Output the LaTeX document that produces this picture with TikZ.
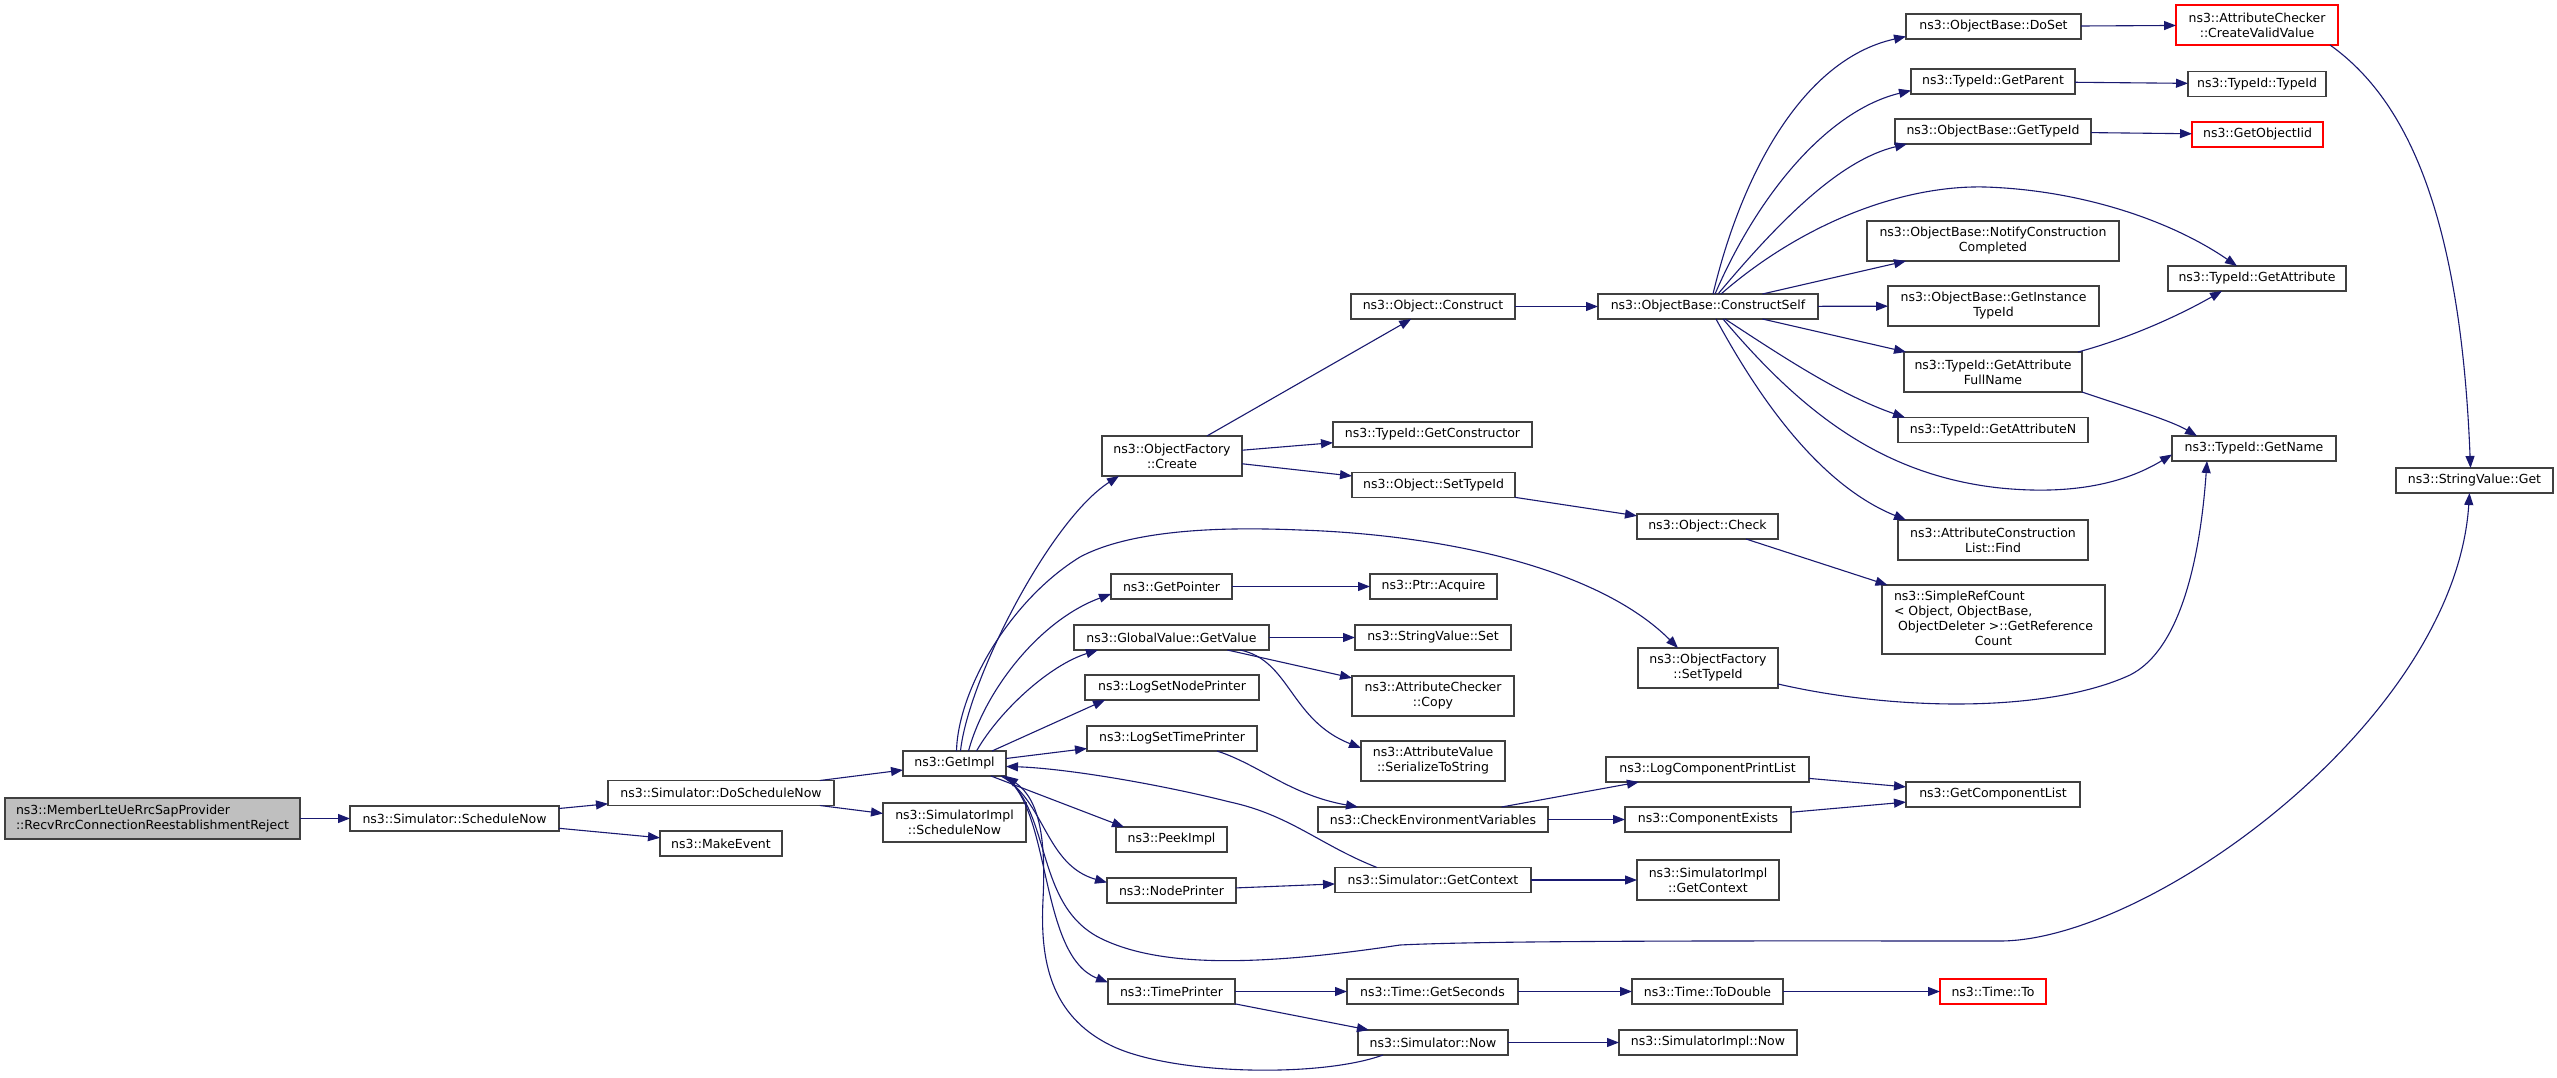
\documentclass[tikz,border=0pt]{standalone}
\usepackage{fontspec}
\setmainfont{DejaVu Sans}
\usetikzlibrary{arrows.meta,calc}
\definecolor{edgec}{HTML}{191970}
\definecolor{boxc}{HTML}{404040}
\definecolor{mainfill}{HTML}{BFBFBF}
\begin{document}
\begin{tikzpicture}[x=1pt,y=-1pt,
  box/.style={draw=boxc, line width=1.1pt, fill=white, inner sep=0pt, outer sep=0pt,
    font=\fontsize{12.5}{15}\selectfont, align=center, minimum height=25pt},
  redbox/.style={box, draw=red},
  edge/.style={draw=edgec, line width=1.1pt, -{Triangle[length=12pt,width=9pt]}}]
\fill[white] (0,0) rectangle (2557,1078);
\useasboundingbox (0,0) rectangle (2557,1078);
% nodes
\node[box, fill=mainfill, minimum width=295pt, minimum height=41pt, align=left] (main) at (152.5,818.5) {ns3::MemberLteUeRrcSapProvider\\::RecvRrcConnectionReestablishmentReject};
\node[box, minimum width=209pt] (sn) at (454.5,818.5) {ns3::Simulator::ScheduleNow};
\node[box, minimum width=226pt] (dsn) at (721,793) {ns3::Simulator::DoScheduleNow};
\node[box, minimum width=122pt] (me) at (721,843.5) {ns3::MakeEvent};
\node[box, minimum width=103pt] (gi) at (954.5,763.5) {ns3::GetImpl};
\node[box, minimum width=143pt, minimum height=39pt] (sisn) at (954.5,822.5) {ns3::SimulatorImpl\\::ScheduleNow};
\node[box, minimum width=140pt, minimum height=40pt] (cr) at (1172,456) {ns3::ObjectFactory\\::Create};
\node[box, minimum width=121pt] (gp) at (1171.5,586.5) {ns3::GetPointer};
\node[box, minimum width=195pt] (gv) at (1171.5,637.5) {ns3::GlobalValue::GetValue};
\node[box, minimum width=174pt] (lsnp) at (1172,687.5) {ns3::LogSetNodePrinter};
\node[box, minimum width=170pt] (lstp) at (1172,738.5) {ns3::LogSetTimePrinter};
\node[box, minimum width=111pt] (pk) at (1171.5,839.5) {ns3::PeekImpl};
\node[box, minimum width=129pt] (np) at (1171.5,890.5) {ns3::NodePrinter};
\node[box, minimum width=127pt] (tp) at (1171.5,991.5) {ns3::TimePrinter};
\node[box, minimum width=164pt] (oc) at (1433,306.5) {ns3::Object::Construct};
\node[box, minimum width=199pt] (gcon) at (1432.5,434.5) {ns3::TypeId::GetConstructor};
\node[box, minimum width=163pt] (ost) at (1433.5,485) {ns3::Object::SetTypeId};
\node[box, minimum width=127pt] (pa) at (1433.5,586.5) {ns3::Ptr::Acquire};
\node[box, minimum width=156pt] (svs) at (1433,637.5) {ns3::StringValue::Set};
\node[box, minimum width=162pt, minimum height=40pt] (acc) at (1433,696) {ns3::AttributeChecker\\::Copy};
\node[box, minimum width=144pt, minimum height=40pt] (avs) at (1433,761) {ns3::AttributeValue\\::SerializeToString};
\node[box, minimum width=230pt] (cev) at (1433,819.5) {ns3::CheckEnvironmentVariables};
\node[box, minimum width=196pt] (gc) at (1433,880) {ns3::Simulator::GetContext};
\node[box, minimum width=171pt] (gs) at (1432.5,991.5) {ns3::Time::GetSeconds};
\node[box, minimum width=150pt] (snow) at (1433,1042.5) {ns3::Simulator::Now};
\node[box, minimum width=220pt] (cs) at (1708,306.5) {ns3::ObjectBase::ConstructSelf};
\node[box, minimum width=141pt] (ochk) at (1707.5,526.5) {ns3::Object::Check};
\node[box, minimum width=140pt, minimum height=40pt] (ofst) at (1708,668) {ns3::ObjectFactory\\::SetTypeId};
\node[box, minimum width=203pt] (lcpl) at (1707.5,769.5) {ns3::LogComponentPrintList};
\node[box, minimum width=166pt] (cex) at (1708,819.5) {ns3::ComponentExists};
\node[box, minimum width=142pt, minimum height=40pt] (sigc) at (1708,880) {ns3::SimulatorImpl\\::GetContext};
\node[box, minimum width=151pt] (td) at (1707.5,991.5) {ns3::Time::ToDouble};
\node[box, minimum width=178pt] (sinow) at (1708,1042.5) {ns3::SimulatorImpl::Now};
\node[box, minimum width=175pt] (doset) at (1993.5,26.5) {ns3::ObjectBase::DoSet};
\node[box, minimum width=164pt] (gpar) at (1993,81.5) {ns3::TypeId::GetParent};
\node[box, minimum width=196pt] (obgt) at (1993,131.5) {ns3::ObjectBase::GetTypeId};
\node[box, minimum width=252pt, minimum height=40pt] (ncc) at (1993,241) {ns3::ObjectBase::NotifyConstruction\\Completed};
\node[box, minimum width=211pt, minimum height=40pt] (gitid) at (1993.5,306) {ns3::ObjectBase::GetInstance\\TypeId};
\node[box, minimum width=178pt, minimum height=40pt] (gafn) at (1993,372) {ns3::TypeId::GetAttribute\\FullName};
\node[box, minimum width=190pt] (gan) at (1993,430) {ns3::TypeId::GetAttributeN};
\node[box, minimum width=190pt, minimum height=40pt] (acl) at (1993,540) {ns3::AttributeConstruction\\List::Find};
\node[box, minimum width=223pt, minimum height=69pt] (src) at (1993.5,619.5) {\begin{tabular}{@{}l@{}}ns3::SimpleRefCount\\< Object, ObjectBase,\\\ ObjectDeleter >::GetReference\\\multicolumn{1}{@{}c@{}}{Count}\end{tabular}};
\node[box, minimum width=174pt] (gcl) at (1993,794.5) {ns3::GetComponentList};
\node[redbox, minimum width=106pt] (tto) at (1993,991.5) {ns3::Time::To};
\node[redbox, minimum width=162pt, minimum height=40pt] (cvv) at (2257,25) {ns3::AttributeChecker\\::CreateValidValue};
\node[box, minimum width=138pt] (tid) at (2257,84) {ns3::TypeId::TypeId};
\node[redbox, minimum width=131pt] (goi) at (2257.5,134.5) {ns3::GetObjectIid};
\node[box, minimum width=178pt] (ga) at (2257,278.5) {ns3::TypeId::GetAttribute};
\node[box, minimum width=164pt] (gname) at (2254,448.5) {ns3::TypeId::GetName};
\node[box, minimum width=157pt] (svg) at (2474.5,480.5) {ns3::StringValue::Get};
% straight edges
\draw[edge] (main) -- (sn);
\draw[edge] (sn) -- (dsn);
\draw[edge] (sn) -- (me);
\draw[edge] (dsn) -- (gi);
\draw[edge] (dsn) -- (sisn);
\draw[edge] (cr) -- (oc);
\draw[edge] (cr) -- (gcon);
\draw[edge] (cr) -- (ost);
\draw[edge] (oc) -- (cs);
\draw[edge] (ost) -- (ochk);
\draw[edge] (ochk) -- (src);
\draw[edge] (gp) -- (pa);
\draw[edge] (gv) -- (svs);
\draw[edge] (gv) -- (acc);
\draw[edge] (np) -- (gc);
\draw[edge] (tp) -- (gs);
\draw[edge] (tp) -- (snow);
\draw[edge] (cev) -- (lcpl);
\draw[edge] (cev) -- (cex);
\draw[edge] (lcpl) -- (gcl);
\draw[edge] (cex) -- (gcl);
\draw[edge] (gc) -- (sigc);
\draw[edge] (gs) -- (td);
\draw[edge] (td) -- (tto);
\draw[edge] (snow) -- (sinow);
\draw[edge] (cs) -- (ncc);
\draw[edge] (cs) -- (gitid);
\draw[edge] (cs) -- (gafn);
\draw[edge] (doset) -- (cvv);
\draw[edge] (gpar) -- (tid);
\draw[edge] (obgt) -- (goi);
\draw[edge] ($(gi.north east)+(-14,0)$) -- ($(lsnp.south west)+(20,0)$);
\draw[edge] ($(gi.east)+(0,-5)$) -- ($(lstp.west)+(0,10)$);
\draw[edge] ($(gi.south east)+(-15,0)$) -- ($(pk.north west)+(8,0)$);
% curved edges from GetImpl
\draw[edge] ($(gi.north)+(6,0)$) .. controls (968,680) and (1050,520) .. ($(cr.south west)+(17,0)$);
\draw[edge] ($(gi.north)+(2,0)$) .. controls (958,690) and (1010,600) .. (1080,557)
  .. controls (1140,525) and (1250,528) .. (1300,530)
  .. controls (1450,535) and (1600,570) .. ($(ofst.north)+(-30,0)$);
\draw[edge] ($(gi.north)+(14,0)$) .. controls (985,690) and (1040,620) .. ($(gp.south west)+(0,-5)$);
\draw[edge] ($(gi.north)+(22,0)$) .. controls (1000,710) and (1050,665) .. ($(gv.south west)+(24,0)$);
\draw[edge] ($(gi.south east)+(-5,0)$) .. controls (1045,800) and (1045,865) .. ($(np.west)+(0,-8)$);
\draw[edge] ($(gi.south east)+(-3,0)$) .. controls (1052,805) and (1038,955) .. ($(tp.west)+(0,-9)$);
\draw[edge] ($(gi.south east)+(-1,0)$) .. controls (1052,815) and (1035,905) .. (1100,938)
  .. controls (1160,968) and (1260,966) .. (1400,945)
  .. controls (1500,940) and (1800,941) .. (2000,941)
  .. controls (2150,941) and (2455,720) .. ($(svg.south)+(-5,0)$);
% edges into GetImpl
\draw[edge] ($(gc.north west)+(42,0)$) .. controls (1320,845) and (1290,815) .. (1230,802)
  .. controls (1150,782) and (1060,768) .. ($(gi.east)+(0,3)$);
\draw[edge] ($(snow.south west)+(25,0)$) .. controls (1320,1078) and (1170,1075) .. (1110,1045)
  .. controls (1050,1015) and (1040,960) .. (1043,900)
  .. controls (1046,840) and (1040,800) .. ($(gi.south east)+(0,0)$);
% other curves
\draw[edge] ($(gv.south east)+(-29,0)$) .. controls (1290,660) and (1290,720) .. ($(avs.west)+(0,-13)$);
\draw[edge] ($(lstp.south east)+(-40,0)$) .. controls (1260,765) and (1290,795) .. ($(cev.north west)+(40,0)$);
\draw[edge] ($(cs.north)+(5,0)$) .. controls (1740,180) and (1800,60) .. ($(doset.west)+(0,10)$);
\draw[edge] ($(cs.north)+(7,0)$) .. controls (1760,190) and (1830,110) .. ($(gpar.west)+(0,9)$);
\draw[edge] ($(cs.north)+(10,0)$) .. controls (1780,220) and (1840,160) .. ($(obgt.south west)+(12,0)$);
\draw[edge] ($(cs.north)+(13,0)$) .. controls (1800,225) and (1900,185) .. (1985,187)
  .. controls (2080,190) and (2170,220) .. ($(ga.north)+(-20,0)$);
\draw[edge] ($(cs.south)+(17,0)$) .. controls (1780,355) and (1840,395) .. ($(gan.north west)+(7,0)$);
\draw[edge] ($(cs.south)+(15,0)$) .. controls (1800,410) and (1880,475) .. (2000,488)
  .. controls (2080,496) and (2130,480) .. ($(gname.west)+(0,6)$);
\draw[edge] ($(cs.south)+(8,0)$) .. controls (1760,400) and (1820,485) .. ($(acl.north west)+(8,0)$);
\draw[edge] ($(gafn.north east)+(-4,0)$) .. controls (2130,338) and (2180,315) .. ($(ga.south)+(-35,0)$);
\draw[edge] ($(gafn.south east)+(0,0)$) .. controls (2120,405) and (2170,420) .. ($(gname.north west)+(25,0)$);
\draw[edge] ($(ofst.east)+(0,16)$) .. controls (1900,712) and (2050,712) .. (2130,675)
  .. controls (2180,650) and (2200,560) .. ($(gname.south west)+(35,0)$);
\draw[edge] ($(cvv.south east)+(-8,0)$) .. controls (2400,95) and (2460,200) .. ($(svg.north)+(-4,0)$);
\end{tikzpicture}
\end{document}
